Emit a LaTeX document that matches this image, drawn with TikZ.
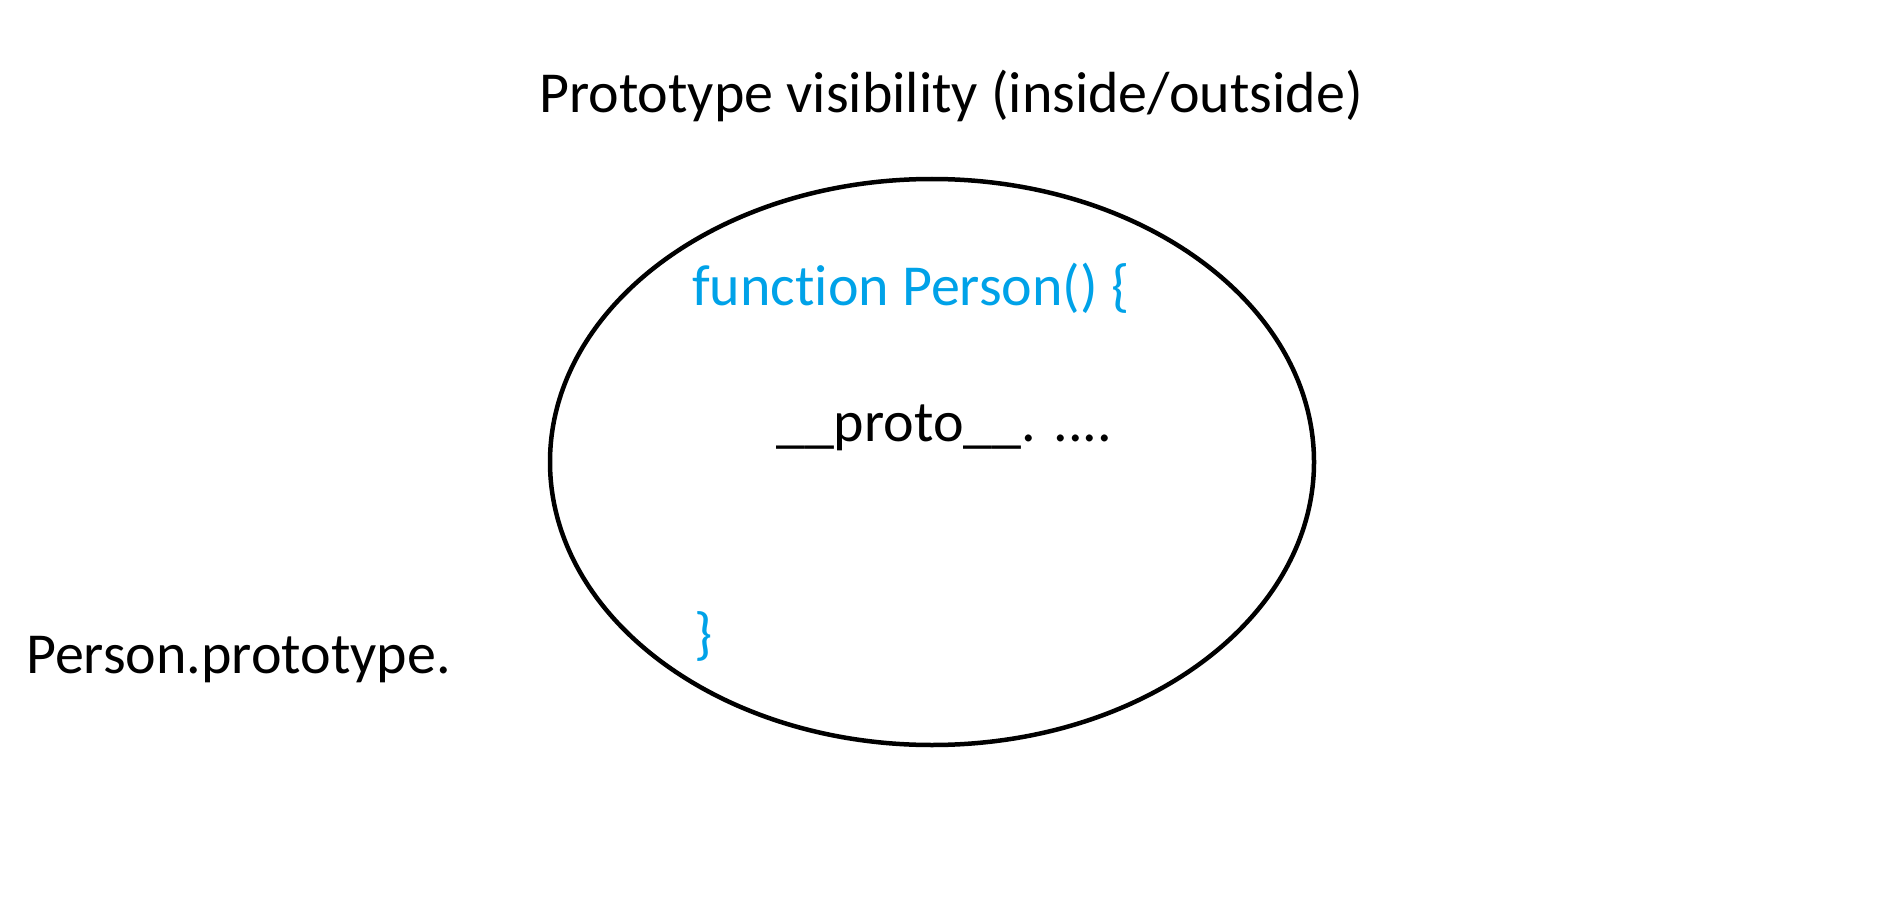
\documentclass[tikz,border=0pt]{standalone}
\usepackage{fontspec}
\setmainfont[Ligatures={NoCommon}]{Carlito}
\usetikzlibrary{shapes.geometric}
\definecolor{codeblue}{RGB}{0,162,232}
\tikzset{
  lbl/.style={anchor=base west, inner sep=0pt, font=\fontsize{58}{60}\selectfont},
  code/.style={lbl, text=codeblue},
  scopeline/.style={draw=black, line width=4.5pt}
}
\begin{document}
\begin{tikzpicture}[x=1pt,y=-1pt]
\useasboundingbox[fill=white] (0,0) rectangle (1879,920);
\node[scopeline, ellipse, minimum width=764pt, minimum height=566pt, inner sep=0pt] (scope) at (932,462) {};
\node[lbl] (title) at (539,113) {Prototype visibility (inside/outside)};
\node[code] (fn) at (692,305) {function Person() \{};
\node[lbl] (proto) at (776,441) {\_\_proto\_\_. ....};
\node[code] (close) at (694,653) {\}};
\node[lbl] (outside) at (26,673) {Person.prototype.};
\end{tikzpicture}
\end{document}
